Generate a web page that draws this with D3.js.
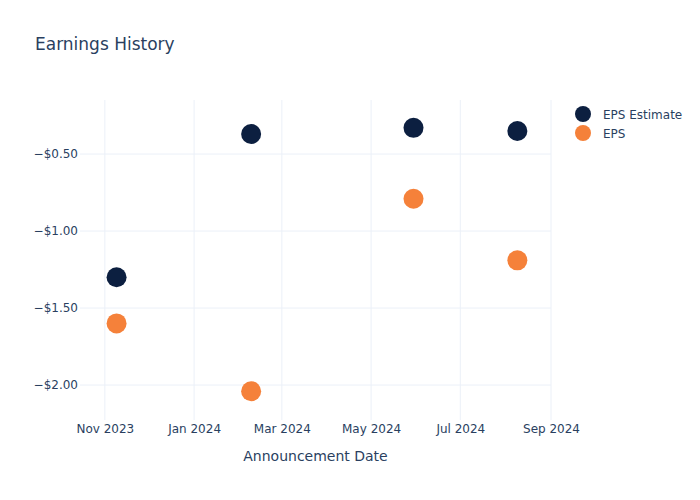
<!DOCTYPE html>
<html>
<head>
<meta charset="utf-8">
<script src="https://cdn.jsdelivr.net/npm/d3@7"></script>
<style>
  html, body { margin: 0; padding: 0; background: #fff; }
  svg { display: block; font-family: "DejaVu Sans", "Open Sans", sans-serif; }
</style>
</head>
<body>
<svg id="chart" width="700" height="500"></svg>
<script>
const dates = ["2023-11-09", "2024-02-09", "2024-05-30", "2024-08-09"];
const epsEstimate = [-1.30, -0.37, -0.33, -0.35];
const epsActual = [-1.60, -2.04, -0.79, -1.19];
const seriesNames = ["EPS Estimate", "EPS"];
const seriesColors = ["#0c1f40", "#f5813a"];
const xTickDates = ["2023-11-01", "2024-01-01", "2024-03-01", "2024-05-01", "2024-07-01", "2024-09-01"];
const yTickValues = [-0.5, -1.0, -1.5, -2.0];

const parse = d3.utcParse("%Y-%m-%d");
const svg = d3.select("#chart");
const margin = {left: 80, right: 149, top: 100, bottom: 80};
const W = 700, H = 500;
const textColor = "#2a3f5f";
const gridColor = "#ebf0f8";

const x = d3.scaleUtc()
  .domain([parse("2023-10-15"), parse("2024-09-01")])
  .range([margin.left, W - margin.right]);
const y = d3.scaleLinear()
  .domain([-2.227, -0.149])
  .range([H - margin.bottom, margin.top]);

// gridlines
const g = svg.append("g");
g.selectAll("line.xg").data(xTickDates.map(parse)).join("line")
  .attr("x1", d => x(d)).attr("x2", d => x(d))
  .attr("y1", margin.top).attr("y2", H - margin.bottom)
  .attr("stroke", gridColor).attr("stroke-width", 1);
g.selectAll("line.yg").data(yTickValues).join("line")
  .attr("x1", margin.left).attr("x2", W - margin.right)
  .attr("y1", d => y(d)).attr("y2", d => y(d))
  .attr("stroke", gridColor).attr("stroke-width", 1);

// axes
const fmtDate = d3.utcFormat("%b %Y");
const xAxis = d3.axisBottom(x).tickValues(xTickDates.map(parse)).tickFormat(fmtDate).tickSize(0).tickPadding(4.5);
const xg = svg.append("g").attr("transform", `translate(0,${H - margin.bottom})`).call(xAxis);
xg.select(".domain").remove();
xg.selectAll("text").attr("fill", textColor).attr("font-size", 12).attr("font-family", "DejaVu Sans, sans-serif");

const fmtY = v => "\u2212$" + Math.abs(v).toFixed(2);
const yAxis = d3.axisLeft(y).tickValues(yTickValues).tickFormat(fmtY).tickSize(0).tickPadding(2);
const yg = svg.append("g").attr("transform", `translate(${margin.left},0)`).call(yAxis);
yg.select(".domain").remove();
yg.selectAll("text").attr("fill", textColor).attr("font-size", 12).attr("font-family", "DejaVu Sans, sans-serif");

// points
const series = [epsEstimate, epsActual];
series.forEach((vals, i) => {
  svg.append("g").selectAll("circle").data(vals).join("circle")
    .attr("cx", (d, j) => x(parse(dates[j])))
    .attr("cy", d => y(d))
    .attr("r", 10)
    .attr("fill", seriesColors[i]);
});

// title
svg.append("text").attr("x", 35).attr("y", 50)
  .attr("fill", textColor).attr("font-size", 17)
  .text("Earnings History");

// x axis title
svg.append("text").attr("x", (margin.left + W - margin.right) / 2).attr("y", 461)
  .attr("text-anchor", "middle").attr("fill", textColor).attr("font-size", 14)
  .text("Announcement Date");

// legend
const lg = svg.append("g");
seriesNames.forEach((name, i) => {
  const yy = 114 + i * 19;
  lg.append("circle").attr("cx", 583).attr("cy", yy).attr("r", 8).attr("fill", seriesColors[i]);
  lg.append("text").attr("x", 603).attr("y", yy + 4.5)
    .attr("fill", textColor).attr("font-size", 12).text(name);
});
</script>
</body>
</html>
